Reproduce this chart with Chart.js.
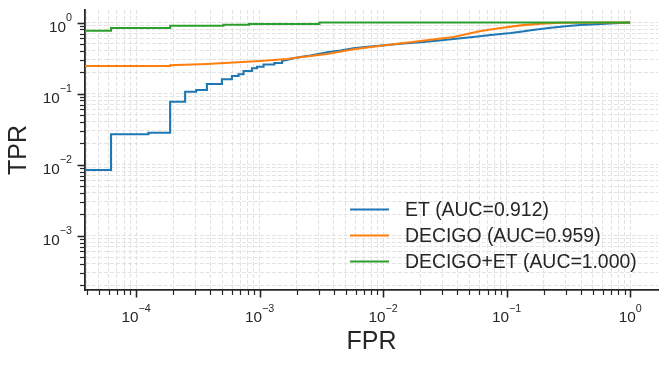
<!DOCTYPE html>
<html>
<head>
<meta charset="utf-8">
<script src="https://cdn.jsdelivr.net/npm/chart.js@4.4.0/dist/chart.umd.min.js"></script>
<style>
  body { margin: 0; background: #fff; }
  #wrap { width: 666px; height: 366px; }
</style>
</head>
<body>
<div id="wrap"><canvas id="rocChart" width="666" height="366"></canvas></div>
<script>
// ROC curves (fpr, tpr pairs, corners included)
const etFpr = [1e-5, 6.27e-5, 6.27e-5, 1.258e-4, 1.258e-4, 1.887e-4, 1.887e-4, 2.496e-4, 2.496e-4,
  3.066e-4, 3.066e-4, 3.745e-4, 3.745e-4, 4.955e-4, 4.955e-4, 5.973e-4, 5.973e-4, 6.757e-4, 6.757e-4,
  7.418e-4, 7.418e-4, 8.679e-4, 8.679e-4, 9.526e-4, 9.526e-4, 1.077e-3, 1.077e-3, 1.316e-3, 1.316e-3,
  1.52e-3, 1.52e-3, 1.866e-3, 2.138e-3, 2.577e-3, 2.993e-3, 3.52e-3, 4.512e-3, 5.75e-3, 7.9e-3,
  0.0108, 0.01464, 0.0201, 0.0271, 0.0372, 0.0511, 0.0743, 0.0895, 0.108, 0.130, 0.157, 0.189,
  0.228, 0.275, 0.331, 0.399, 0.481, 0.580, 0.739, 1.0];
const etTpr = [0.00841, 0.00841, 0.0267, 0.0267, 0.0281, 0.0281, 0.0768, 0.0768, 0.1063, 0.1063,
  0.1123, 0.1123, 0.1364, 0.1364, 0.1588, 0.1588, 0.1767, 0.1767, 0.1867, 0.1867, 0.2078, 0.2078,
  0.2267, 0.2267, 0.2388, 0.2388, 0.256, 0.256, 0.269, 0.269, 0.287, 0.313, 0.327, 0.343, 0.360,
  0.381, 0.404, 0.434, 0.459, 0.483, 0.506, 0.527, 0.553, 0.586, 0.621, 0.667, 0.689, 0.712, 0.742,
  0.777, 0.810, 0.842, 0.873, 0.899, 0.922, 0.937, 0.953, 0.974, 1.0];

const decigoFpr = [1e-5, 1.89e-4, 1.89e-4, 3.75e-4, 1.013e-3, 1.668e-3, 2.138e-3, 3.52e-3, 5.75e-3,
  0.0108, 0.0201, 0.0372, 0.0616, 0.0895, 0.130, 0.189, 0.275, 1.0];
const decigoTpr = [0.2443, 0.2443, 0.2499, 0.2607, 0.2872, 0.3065, 0.3238, 0.3603, 0.4196,
  0.4825, 0.5492, 0.6252, 0.7594, 0.835, 0.912, 0.965, 0.99, 1.0];

const comboFpr = [1e-5, 6.27e-5, 6.27e-5, 1.89e-4, 1.89e-4, 5.1e-4, 5.1e-4, 8.2e-4, 8.2e-4, 3.05e-3, 3.05e-3, 1.0];
const comboTpr = [0.767, 0.767, 0.837, 0.837, 0.902, 0.902, 0.931, 0.931, 0.953, 0.953, 1.0, 1.0];

const seriesLabels = ['ET (AUC=0.912)', 'DECIGO (AUC=0.959)', 'DECIGO+ET (AUC=1.000)'];
const seriesColors = ['#1f77b4', '#ff7f0e', '#2ca02c'];

// labelled decades
const xTickExps = [-4, -3, -2, -1, 0];
const yTickExps = [-3, -2, -1, 0];

const INK = '#262626';
const FONT = "'Liberation Sans', Arial, sans-serif";

function toPoints(xs, ys) {
  return xs.map((x, i) => ({x: x, y: ys[i]}));
}

function isDecade(v) {
  const e = Math.log10(v);
  return Math.abs(e - Math.round(e)) < 1e-9;
}

// 1..9 x 10^n ticks, like matplotlib's log locator with minor ticks
function decadeTicks(scale) {
  const ticks = [];
  const e0 = Math.floor(Math.log10(scale.min));
  const e1 = Math.ceil(Math.log10(scale.max));
  for (let e = e0; e <= e1; e++) {
    for (let m = 1; m < 10; m++) {
      const v = m * Math.pow(10, e);
      if (v >= scale.min && v <= scale.max) ticks.push({value: v, major: m === 1});
    }
  }
  scale.ticks = ticks;
}

function drawPow10(ctx, exp, x, y, align) {
  ctx.font = '15.3px ' + FONT;
  const base = '10';
  const wBase = ctx.measureText(base).width;
  ctx.font = '10.7px ' + FONT;
  const sup = (exp < 0 ? '\u2212' : '') + Math.abs(exp);
  const wSup = ctx.measureText(sup).width;
  let left;
  if (align === 'center') left = x - (wBase + wSup) / 2;
  else left = x - (wBase + wSup);
  ctx.textAlign = 'left';
  ctx.textBaseline = 'alphabetic';
  ctx.font = '15.3px ' + FONT;
  ctx.fillText(base, left, y);
  ctx.font = '10.7px ' + FONT;
  ctx.fillText(sup, left + wBase, y - 10.6);
}

// tick marks, tick labels and the legend
const axisDecor = {
  id: 'axisDecor',
  afterDraw(chart) {
    const {ctx, chartArea, scales} = chart;
    ctx.save();
    ctx.strokeStyle = INK;
    ctx.fillStyle = INK;

    scales.x.ticks.forEach(t => {
      const px = scales.x.getPixelForValue(t.value);
      const major = isDecade(t.value);
      ctx.lineWidth = major ? 1.6 : 1.2;
      ctx.beginPath();
      ctx.moveTo(Math.round(px) + 0.5, chartArea.bottom);
      ctx.lineTo(Math.round(px) + 0.5, chartArea.bottom + (major ? 7.5 : 5));
      ctx.stroke();
    });
    scales.y.ticks.forEach(t => {
      const py = scales.y.getPixelForValue(t.value);
      const major = isDecade(t.value);
      ctx.lineWidth = major ? 1.6 : 1.2;
      ctx.beginPath();
      ctx.moveTo(chartArea.left, Math.round(py) + 0.5);
      ctx.lineTo(chartArea.left - (major ? 7.5 : 5), Math.round(py) + 0.5);
      ctx.stroke();
    });

    xTickExps.forEach(e => {
      const px = scales.x.getPixelForValue(Math.pow(10, e));
      drawPow10(ctx, e, px, chartArea.bottom + 32.3, 'center');
    });
    yTickExps.forEach(e => {
      const py = scales.y.getPixelForValue(Math.pow(10, e));
      drawPow10(ctx, e, chartArea.left - 13, py + 9.1, 'right');
    });

    // legend, lower right inside the axes, no frame
    const rowY = [209.5, 235.5, 261.5];
    seriesLabels.forEach((lab, i) => {
      ctx.strokeStyle = seriesColors[i];
      ctx.lineWidth = 2.1;
      ctx.beginPath();
      ctx.moveTo(350, rowY[i]);
      ctx.lineTo(389, rowY[i]);
      ctx.stroke();
      ctx.fillStyle = INK;
      ctx.font = '19.4px ' + FONT;
      ctx.textAlign = 'left';
      ctx.textBaseline = 'alphabetic';
      ctx.fillText(lab, 405, rowY[i] + 6.5);
    });
    ctx.restore();
  }
};

const gridColor = '#e3e3e3';

const ctx = document.getElementById('rocChart').getContext('2d');
new Chart(ctx, {
  type: 'scatter',
  data: {
    datasets: [
      {label: seriesLabels[0], data: toPoints(etFpr, etTpr), borderColor: seriesColors[0], order: 3},
      {label: seriesLabels[1], data: toPoints(decigoFpr, decigoTpr), borderColor: seriesColors[1], order: 2},
      {label: seriesLabels[2], data: toPoints(comboFpr, comboTpr), borderColor: seriesColors[2], order: 1}
    ].map(d => Object.assign(d, {showLine: true, borderWidth: 2.1, pointRadius: 0, fill: false, tension: 0}))
  },
  options: {
    responsive: false,
    animation: false,
    events: [],
    layout: {padding: {top: 10, right: 8, left: 0, bottom: 0}},
    plugins: {legend: {display: false}, tooltip: {enabled: false}},
    scales: {
      x: {
        type: 'logarithmic',
        position: 'bottom',
        min: 3.86e-5,
        max: 1.68,
        afterBuildTicks: decadeTicks,
        afterFit: s => { s.height = 76; },
        ticks: {display: false},
        grid: {color: gridColor, lineWidth: 1, drawTicks: false},
        border: {display: true, color: INK, width: 1.8, dash: [4, 2]},
        title: {display: true, text: 'FPR', color: INK, font: {family: FONT, size: 25}, padding: {bottom: 9}}
      },
      y: {
        type: 'logarithmic',
        position: 'left',
        min: 1.72e-4,
        max: 1.5,
        afterBuildTicks: decadeTicks,
        afterFit: s => { s.width = 85; },
        ticks: {display: false},
        grid: {color: gridColor, lineWidth: 1, drawTicks: false},
        border: {display: true, color: INK, width: 1.8, dash: [4, 2]},
        title: {display: true, text: 'TPR', color: INK, font: {family: FONT, size: 25}, padding: {top: 4}}
      }
    }
  },
  plugins: [axisDecor]
});
</script>
</body>
</html>
